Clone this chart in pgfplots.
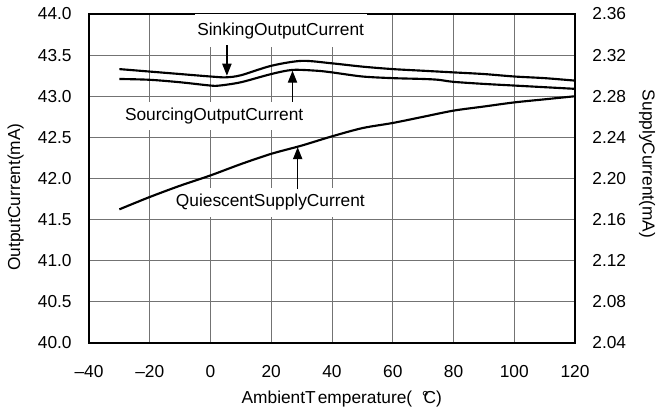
\documentclass[border=0pt]{standalone}
\usepackage{fontspec}
\setmainfont{Liberation Sans}
\usepackage{pgfplots}
\pgfplotsset{compat=1.18}
\usetikzlibrary{calc,arrows.meta}

\newcommand{\lblfont}{\fontsize{13}{15.6}\selectfont}

\begin{document}
\lblfont
\begin{tikzpicture}
\pgfplotsset{
  base/.style={
    scale only axis, width=364.5pt, height=246.75pt,
    xmin=-40, xmax=120, clip=false,
    major tick length=0pt,
    tick label style={font=\lblfont},
  },
  curve/.style={black, line width=1.6pt, smooth, tension=0.5, no marks},
}
\begin{axis}[base,
  ymin=40, ymax=44,
  ytick={40,40.5,...,44},
  yticklabels={40.0,40.5,41.0,41.5,42.0,42.5,43.0,43.5,44.0},
  xtick={-40,-20,...,120},
  xticklabels={\textendash40,\textendash20,0,20,40,60,80,100,120},
  grid=major, major grid style={black!55, line width=0.75pt},
  axis line style={line width=1.6pt},
  xticklabel style={yshift=-12pt},
  yticklabel style={xshift=-8.5pt},
]
% sinking output current
\addplot[curve] coordinates {
  (-30,43.33) (-20,43.30) (-10,43.27) (0,43.24) (5,43.23) (10,43.255)
  (20,43.37) (30,43.43) (40,43.40) (50,43.36) (60,43.33) (70,43.31)
  (80,43.29) (90,43.27) (100,43.24) (110,43.22) (120,43.19)
};
% sourcing output current
\addplot[curve] coordinates {
  (-30,43.21) (-20,43.20) (-10,43.17) (0,43.13) (3,43.13) (10,43.17)
  (20,43.27) (27,43.32) (35,43.31) (40,43.29) (50,43.24) (60,43.22)
  (70,43.21) (75,43.20) (80,43.175) (90,43.15) (100,43.13) (110,43.11)
  (120,43.09)
};
\coordinate (bl) at (rel axis cs:0,0);
\coordinate (tr) at (rel axis cs:1,1);

\node[fill=white, anchor=south, inner xsep=2pt, minimum height=25.3pt]
  at (axis cs:23.1,43.59) {SinkingOutputCurrent};
\draw[line width=0.9pt, -{Triangle[width=7pt,length=9pt]}]
  (axis cs:5.4,43.62) -- (axis cs:5.4,43.25);

\node[fill=white, inner xsep=2pt, minimum height=21pt]
  at (axis cs:1.2,42.76) {SourcingOutputCurrent};
\draw[line width=0.9pt, -{Triangle[width=7pt,length=9pt]}]
  (axis cs:27,42.93) -- (axis cs:27,43.31);

\node[fill=white, inner xsep=2pt, minimum height=22pt]
  at (axis cs:19.7,41.71) {QuiescentSupplyCurrent};
\draw[line width=0.9pt, -{Triangle[width=7pt,length=9pt]}]
  (axis cs:28.7,41.87) -- (axis cs:28.7,42.38);
\end{axis}

\begin{axis}[base,
  axis x line=none, axis y line*=right,
  ymin=2.04, ymax=2.36,
  ytick={2.04,2.08,...,2.36},
  yticklabels={2.04,2.08,2.12,2.16,2.20,2.24,2.28,2.32,2.36},
  axis line style={line width=1.6pt},
  yticklabel style={xshift=8.5pt},
]
% quiescent supply current
\addplot[curve] coordinates {
  (-30,2.170) (-20,2.182) (-10,2.193) (0,2.203) (10,2.214) (20,2.224)
  (30,2.232) (40,2.241) (50,2.249) (60,2.254) (70,2.260) (80,2.266)
  (90,2.270) (100,2.274) (110,2.277) (120,2.280)
};
\end{axis}

\node[rotate=90] at ($(bl)!0.444!(bl|-tr)+(-55pt,0)$) {OutputCurrent(mA)};
\node[rotate=-90] at ($(bl-|tr)!0.544!(tr)+(54pt,0)$) {SupplyCurrent(mA)};
\node at ($(bl)!0.52!(bl-|tr)+(0,-42pt)$)
  {AmbientT\kern0.12em emperature(\hspace{0.55em}°\kern-0.3em C)};

\pgfresetboundingbox
\path ($(bl)+(-66.75pt,-54pt)$) rectangle ($(tr)+(63.75pt,10.5pt)$);
\end{tikzpicture}
\end{document}
